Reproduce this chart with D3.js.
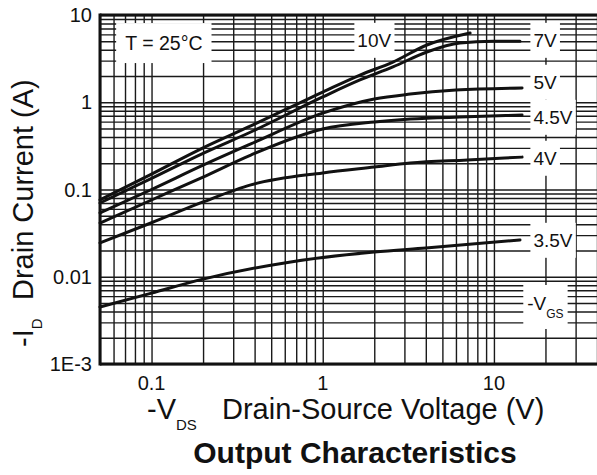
<!DOCTYPE html>
<html>
<head>
<meta charset="utf-8">
<script src="https://cdn.jsdelivr.net/npm/d3@7"></script>
<style>
  body { margin: 0; background: #fff; }
  text { font-family: "Liberation Sans", Arial, sans-serif; fill: #111; }
  .grid line { stroke: #1a1a1a; stroke-width: 1.4; }
  .grid path { display: none; }
</style>
</head>
<body>
<div id="chart"></div>
<script>

// -VDS (V) and -ID (A), one pair of arrays per -VGS
var vds_10 = [0.05, 0.1, 0.2, 0.38, 1, 1.65, 2.57, 4.06, 7.26];
var id_10  = [0.076, 0.15, 0.30, 0.535, 1.31, 2.05, 2.89, 4.53, 6.22];

var vds_7 = [0.05, 0.1, 0.2, 0.38, 1, 1.65, 2.57, 4.06, 6.33, 9.9, 14.2];
var id_7  = [0.070, 0.134, 0.26, 0.456, 1.15, 1.80, 2.54, 3.77, 4.77, 5.0, 5.0];

var vds_5 = [0.05, 0.1, 0.2, 0.38, 1, 2, 3.24, 6, 14.6];
var id_5  = [0.054, 0.10, 0.19, 0.333, 0.75, 1.09, 1.24, 1.38, 1.46];

var vds_45 = [0.05, 0.1, 0.2, 0.38, 1, 2, 3.24, 7, 14.6];
var id_45  = [0.0413, 0.0758, 0.139, 0.248, 0.493, 0.594, 0.643, 0.68, 0.714];

var vds_4 = [0.05, 0.1, 0.2, 0.38, 1, 2, 3.24, 7, 14.6];
var id_4  = [0.0244, 0.0416, 0.072, 0.113, 0.155, 0.181, 0.201, 0.218, 0.235];

var vds_35 = [0.05, 0.1, 0.2, 0.65, 2, 4, 14.2];
var id_35  = [0.0045, 0.0065, 0.0094, 0.0148, 0.0192, 0.0214, 0.0264];

// curve labels, placed in data units (V, A)
var curveLabels = ["10V", "7V", "5V", "4.5V", "4V", "3.5V"];
var labelVds = [2, 17, 17, 17, 17, 17];
var labelId  = [5.17, 5.17, 1.71, 0.678, 0.23, 0.0264];
var labelAnchor = ["middle", "start", "start", "start", "start", "start"];

// axis ticks
var xTicks = [0.1, 1, 10];
var xTickLabels = ["0.1", "1", "10"];
var yTicks = [10, 1, 0.1, 0.01, 0.001];
var yTickLabels = ["10", "1", "0.1", "0.01", "1E-3"];

var series = [
  {vgs: "10V", vds: vds_10, id: id_10},
  {vgs: "7V", vds: vds_7, id: id_7},
  {vgs: "5V", vds: vds_5, id: id_5},
  {vgs: "4.5V", vds: vds_45, id: id_45},
  {vgs: "4V", vds: vds_4, id: id_4},
  {vgs: "3.5V", vds: vds_35, id: id_35}
];

var margin = {top: 15, right: 0, bottom: 111, left: 100},
    width = 597 - margin.left - margin.right,
    height = 475 - margin.top - margin.bottom;

var svg = d3.select("#chart")
  .append("svg")
    .attr("width", width + margin.left + margin.right)
    .attr("height", height + margin.top + margin.bottom)
  .append("g")
    .attr("transform", "translate(" + margin.left + "," + margin.top + ")");

var x = d3.scaleLog()
  .domain([0.05, 40])
  .range([0, width]);

var y = d3.scaleLog()
  .domain([0.001, 10])
  .range([height, 0]);

// every 1-2-3..9 line of each decade
function logLines(lo, hi) {
  var out = [];
  for (var p = lo; p < hi; p++) {
    for (var m = 1; m < 10; m++) out.push(+(m * Math.pow(10, p)).toPrecision(3));
  }
  out.push(Math.pow(10, hi));
  return out;
}
var xLines = logLines(-2, 2).filter(function(v) { return v >= 0.05 && v <= 40; });
var yLines = logLines(-3, 1);

svg.append("g")
  .attr("class", "grid")
  .attr("transform", "translate(0," + height + ")")
  .call(d3.axisBottom(x).tickValues(xLines).tickSize(-height).tickFormat(""));

svg.append("g")
  .attr("class", "grid")
  .call(d3.axisLeft(y).tickValues(yLines).tickSize(-width).tickFormat(""));

// tick labels
svg.selectAll(".xlab")
  .data(xTicks)
  .enter().append("text")
    .attr("class", "xlab")
    .attr("x", function(d) { return x(d); })
    .attr("y", height + 26)
    .attr("text-anchor", "middle")
    .style("font-size", "20px")
    .text(function(d, i) { return xTickLabels[i]; });

svg.selectAll(".ylab")
  .data(yTicks)
  .enter().append("text")
    .attr("class", "ylab")
    .attr("x", -8)
    .attr("y", function(d) { return y(d); })
    .attr("dy", "0.35em")
    .attr("text-anchor", "end")
    .style("font-size", "20px")
    .text(function(d, i) { return yTickLabels[i]; });

// label with a white box that hides the grid behind it
function boxed(g, padX, padY) {
  var b = g.node().getBBox();
  g.insert("rect", ":first-child")
    .attr("x", b.x - padX)
    .attr("y", b.y - padY)
    .attr("width", b.width + 2 * padX)
    .attr("height", b.height + 2 * padY)
    .style("fill", "#fff");
}

var tBox = svg.append("g");
tBox.append("text")
  .attr("x", x(0.118))
  .attr("y", y(4.77))
  .attr("dy", "0.36em")
  .attr("text-anchor", "middle")
  .style("font-size", "19.5px")
  .text("T = 25°C");
boxed(tBox, 9, 9);

curveLabels.forEach(function(lab, i) {
  var g = svg.append("g");
  g.append("text")
    .attr("x", x(labelVds[i]))
    .attr("y", y(labelId[i]))
    .attr("dy", "0.36em")
    .attr("text-anchor", labelAnchor[i])
    .style("font-size", "19px")
    .text(lab);
  boxed(g, 3, 7);
});

var vgs = svg.append("g");
var vgsText = vgs.append("text")
  .attr("x", x(20))
  .attr("y", y(0.00416))
  .attr("text-anchor", "middle")
  .style("font-size", "19px");
vgsText.append("tspan").text("-V");
vgsText.append("tspan").attr("dy", 8).style("font-size", "12px").text("GS");
boxed(vgs, 4, 8);

// the curves
var line = d3.line()
  .x(function(d) { return x(d[0]); })
  .y(function(d) { return y(d[1]); })
  .curve(d3.curveMonotoneX);

svg.selectAll(".curve")
  .data(series)
  .enter().append("path")
    .attr("class", "curve")
    .attr("d", function(s) { return line(s.vds.map(function(v, i) { return [v, s.id[i]]; })); })
    .style("fill", "none")
    .style("stroke", "#111")
    .style("stroke-width", 3)
    .style("stroke-linecap", "round");

// frame: left, top and bottom only
svg.append("line").attr("x1", 0).attr("x2", 0).attr("y1", -1.5).attr("y2", height + 1.5)
  .style("stroke", "#111").style("stroke-width", 3);
svg.append("line").attr("x1", 0).attr("x2", width).attr("y1", 0).attr("y2", 0)
  .style("stroke", "#111").style("stroke-width", 3);
svg.append("line").attr("x1", 0).attr("x2", width).attr("y1", height).attr("y2", height)
  .style("stroke", "#111").style("stroke-width", 3);

// axis titles
var xt = svg.append("text")
  .attr("x", 47)
  .attr("y", height + 55)
  .style("font-size", "29px");
xt.append("tspan").text("-V");
xt.append("tspan").attr("dy", 11).style("font-size", "15px").text("DS");
xt.append("tspan").attr("x", 122).attr("dy", -11).text("Drain-Source Voltage (V)");

var yt = svg.append("text")
  .attr("transform", "translate(-67," + (height - 17) + ") rotate(-90)")
  .style("font-size", "29px");
yt.append("tspan").attr("x", 0).text("-I");
yt.append("tspan").attr("dy", 9).style("font-size", "15px").text("D");
yt.append("tspan").attr("x", 47).attr("dy", -9).text("Drain Current (A)");

svg.append("text")
  .attr("x", 255)
  .attr("y", height + 99)
  .attr("text-anchor", "middle")
  .style("font-size", "30px")
  .style("font-weight", "bold")
  .text("Output Characteristics");

</script>
</body>
</html>
